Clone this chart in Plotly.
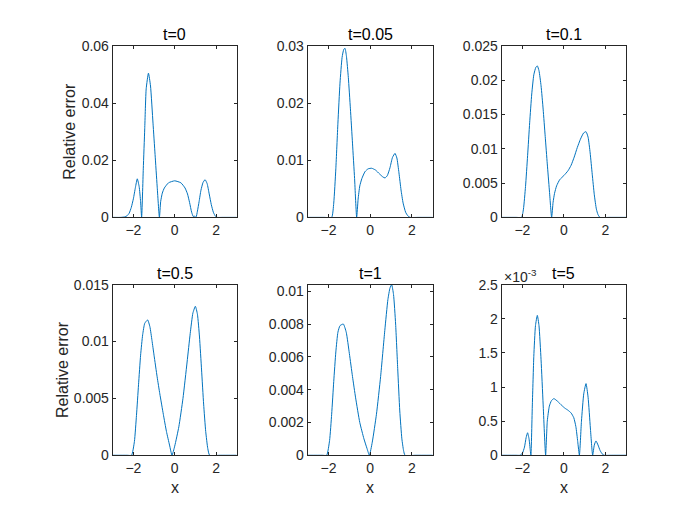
import plotly.graph_objects as go
from plotly.subplots import make_subplots

# x a hodnoty chyby pro kazdy cas
x_t0 = [-3.0, -2.6, -2.4, -2.3, -2.2, -2.1, -2.0, -1.9, -1.81, -1.72, -1.65, -1.6,
        -1.52, -1.45, -1.38, -1.27, -1.17, -1.05, -0.95, -0.85, -0.74,
        -0.68, -0.6, -0.5, -0.3, 0.0, 0.3, 0.5, 0.62, 0.72, 0.82, 0.9, 0.96, 1.03,
        1.1, 1.18, 1.27, 1.37, 1.47, 1.57, 1.67, 1.77, 1.87, 1.97, 2.05, 2.3, 3.0]
err_t0 = [0.0, 0.0, 0.0002, 0.0006, 0.0015, 0.0035, 0.0065, 0.0105, 0.0135, 0.0108, 0.0055, 0.0,
          0.017, 0.031, 0.045, 0.0505, 0.046, 0.033, 0.022, 0.011, 0.0,
          0.0055, 0.0085, 0.0103, 0.0121, 0.0128, 0.0121, 0.0103, 0.0082, 0.0052, 0.0018, 0.0003, 0.0004, 0.0,
          0.0022, 0.0055, 0.0095, 0.0122, 0.0132, 0.0118, 0.0082, 0.0045, 0.0018, 0.0004, 0.0, 0.0, 0.0]

x_t005 = [-3.0, -2.2, -1.85, -1.75, -1.65, -1.55, -1.45, -1.35, -1.27, -1.21, -1.14, -1.05,
          -0.95, -0.85, -0.75, -0.65, -0.58, -0.5, -0.4, -0.25, -0.1, 0.07, 0.25, 0.45,
          0.6, 0.71, 0.82, 0.95, 1.07, 1.19, 1.28, 1.38, 1.48, 1.58, 1.7, 1.8, 1.91, 2.3, 3.0]
err_t005 = [0.0, 0.0, 0.0, 0.0025, 0.0085, 0.0165, 0.0235, 0.028, 0.0294, 0.0296, 0.0282, 0.0245,
            0.019, 0.013, 0.0068, 0.0, 0.0032, 0.0055, 0.0068, 0.008, 0.0085, 0.0086, 0.0083, 0.0076,
            0.0071, 0.0069, 0.0073, 0.0087, 0.0105, 0.0112, 0.0104, 0.0078, 0.0048, 0.0025, 0.0009, 0.0003, 0.0, 0.0, 0.0]

x_t01 = [-3.0, -2.3, -2.04, -1.95, -1.85, -1.75, -1.65, -1.55, -1.45, -1.35, -1.28, -1.2,
         -1.1, -1.0, -0.9, -0.8, -0.7, -0.59, -0.52, -0.45, -0.35, -0.2, 0.0, 0.2,
         0.35, 0.5, 0.65, 0.8, 0.95, 1.07, 1.17, 1.27, 1.37, 1.47, 1.57, 1.65, 1.74, 2.2, 3.0]
err_t01 = [0.0, 0.0, 0.0, 0.0012, 0.0045, 0.009, 0.0138, 0.018, 0.0208, 0.0219, 0.0221, 0.0214,
           0.0192, 0.0158, 0.0118, 0.0078, 0.004, 0.0, 0.0022, 0.0035, 0.0046, 0.0055, 0.0061, 0.0068,
           0.0076, 0.0088, 0.0102, 0.0114, 0.0123, 0.0125, 0.0117, 0.0094, 0.0063, 0.0033, 0.0012, 0.0004, 0.0, 0.0, 0.0]

x_t05 = [-3.0, -2.3, -2.09, -1.95, -1.85, -1.75, -1.65, -1.55, -1.45, -1.31, -1.2, -1.1,
         -1.0, -0.85, -0.72, -0.55, -0.4, -0.25, -0.13, 0.0, 0.2, 0.4, 0.6, 0.75,
         0.88, 1.0, 1.1, 1.2, 1.3, 1.4, 1.5, 1.6, 1.69, 2.2, 3.0]
err_t05 = [0.0, 0.0, 0.0, 0.0012, 0.0035, 0.0062, 0.0088, 0.0106, 0.0116, 0.0119, 0.0113, 0.0101,
           0.0088, 0.0069, 0.0054, 0.0036, 0.0021, 0.0009, 0.0, 0.0008, 0.0025, 0.005, 0.0082, 0.0107,
           0.0125, 0.0131, 0.0124, 0.0104, 0.0075, 0.0045, 0.0021, 0.0006, 0.0, 0.0, 0.0]

x_t1 = [-3.0, -2.3, -2.09, -1.95, -1.85, -1.75, -1.65, -1.55, -1.45, -1.29, -1.15, -1.0,
        -0.85, -0.7, -0.5, -0.3, -0.15, -0.04, 0.1, 0.3, 0.5, 0.7, 0.85, 0.95,
        1.03, 1.12, 1.22, 1.32, 1.42, 1.52, 1.6, 1.67, 2.2, 3.0]
err_t1 = [0.0, 0.0, 0.0, 0.0009, 0.0025, 0.0045, 0.0063, 0.0075, 0.0079, 0.008, 0.0075, 0.0062,
          0.0048, 0.0035, 0.002, 0.001, 0.0004, 0.0, 0.0008, 0.0025, 0.0048, 0.0076, 0.0095, 0.0102,
          0.0104, 0.0098, 0.008, 0.0053, 0.0027, 0.001, 0.0003, 0.0, 0.0, 0.0]

# t=5 v jednotkach 1e-3
x_t5 = [-3.0, -2.3, -2.12, -2.0, -1.9, -1.82, -1.75, -1.68, -1.62, -1.59, -1.52, -1.45, -1.37,
        -1.28, -1.2, -1.1, -1.0, -0.88, -0.8, -0.7, -0.6, -0.48, -0.3, -0.1, 0.05,
        0.2, 0.35, 0.48, 0.58, 0.67, 0.75, 0.85, 0.96, 1.07, 1.17, 1.28, 1.39, 1.47,
        1.55, 1.65, 1.75, 1.85, 1.94, 2.3, 3.0]
err_t5_e3 = [0.0, 0.0, 0.0, 0.03, 0.12, 0.26, 0.33, 0.24, 0.07, 0.0, 0.75, 1.45, 1.9,
             2.05, 1.9, 1.4, 0.75, 0.0, 0.5, 0.72, 0.8, 0.83, 0.79, 0.73, 0.69,
             0.66, 0.62, 0.55, 0.42, 0.2, 0.0, 0.5, 0.9, 1.05, 0.85, 0.4, 0.0, 0.15,
             0.21, 0.15, 0.07, 0.02, 0.0, 0.0, 0.0]

panels = [
    ("t=0", x_t0, err_t0, [0, 0.02, 0.04, 0.06], 0.06),
    ("t=0.05", x_t005, err_t005, [0, 0.01, 0.02, 0.03], 0.03),
    ("t=0.1", x_t01, err_t01, [0, 0.005, 0.01, 0.015, 0.02, 0.025], 0.025),
    ("t=0.5", x_t05, err_t05, [0, 0.005, 0.01, 0.015], 0.015),
    ("t=1", x_t1, err_t1, [0, 0.002, 0.004, 0.006, 0.008, 0.01], 0.0104),
    ("t=5", x_t5, err_t5_e3, [0, 0.5, 1, 1.5, 2, 2.5], 2.5),
]

OFF = 8  # okraj stranky v prohlizeci
W, H = 692 - 2 * OFF, 519 - 2 * OFF
x_dom = [(112.7, 236.7), (307.7, 432.7), (501.7, 626.0)]
y_dom = [(39.0, 216.0), (285.5, 461.7)]


def px(p):
    return (p - OFF) / W


def py(p):
    return 1 - (p - OFF) / H


fig = make_subplots(rows=2, cols=3)
ink = "#262626"
font = "Liberation Sans, Arial, sans-serif"
annotations = []

for i, (title, xs, ys, yticks, ymax) in enumerate(panels):
    r, c = i // 3, i % 3
    fig.add_trace(go.Scatter(x=xs, y=ys, mode="lines",
                             line=dict(color="#0072BD", width=1, shape="spline", smoothing=0.5),
                             showlegend=False), row=r + 1, col=c + 1)
    x0, x1 = px(x_dom[c][0]), px(x_dom[c][1])
    y0, y1 = py(y_dom[r][1]), py(y_dom[r][0])
    fig.update_xaxes(domain=[x0, x1], range=[-3, 3], tickvals=[-2, 0, 2],
                     ticks="inside", ticklen=3, tickcolor=ink, showline=True, linecolor=ink,
                     linewidth=1, mirror="ticks", showgrid=False, zeroline=False,
                     tickfont=dict(size=14, color=ink, family=font), row=r + 1, col=c + 1)
    fig.update_yaxes(domain=[y0, y1], range=[0, ymax], tickvals=yticks,
                     ticks="inside", ticklen=3, tickcolor=ink, showline=True, linecolor=ink,
                     linewidth=1, mirror="ticks", showgrid=False, zeroline=False,
                     tickfont=dict(size=14, color=ink, family=font), row=r + 1, col=c + 1)
    annotations.append(dict(text=title, x=(x0 + x1) / 2, y=y1, xref="paper", yref="paper",
                            xanchor="center", yanchor="bottom", yshift=1, showarrow=False,
                            font=dict(size=16, color="black", family=font)))
    if r == 1:
        annotations.append(dict(text="x", x=(x0 + x1) / 2, y=py(495), xref="paper", yref="paper",
                                xanchor="center", yanchor="middle", showarrow=False,
                                font=dict(size=16, color=ink, family=font)))

# popisky osy y
for xpix, r in [(70, 0), (63, 1)]:
    yc = py((y_dom[r][0] + y_dom[r][1]) / 2)
    annotations.append(dict(text="Relative error", x=px(xpix), y=yc, xref="paper", yref="paper",
                            xanchor="center", yanchor="middle", textangle=-90, showarrow=False,
                            font=dict(size=16, color=ink, family=font)))

# exponent u posledniho grafu
annotations.append(dict(text="×10<sup>-3</sup>", x=px(x_dom[2][0]), y=py(y_dom[1][0]),
                        xref="paper", yref="paper", xanchor="left", yanchor="bottom", yshift=-2,
                        showarrow=False, font=dict(size=14, color=ink, family=font)))

fig.update_layout(width=W, height=H, autosize=False, margin=dict(l=0, r=0, t=0, b=0),
                  paper_bgcolor="white", plot_bgcolor="white", annotations=annotations)

fig.write_html("out.html")
